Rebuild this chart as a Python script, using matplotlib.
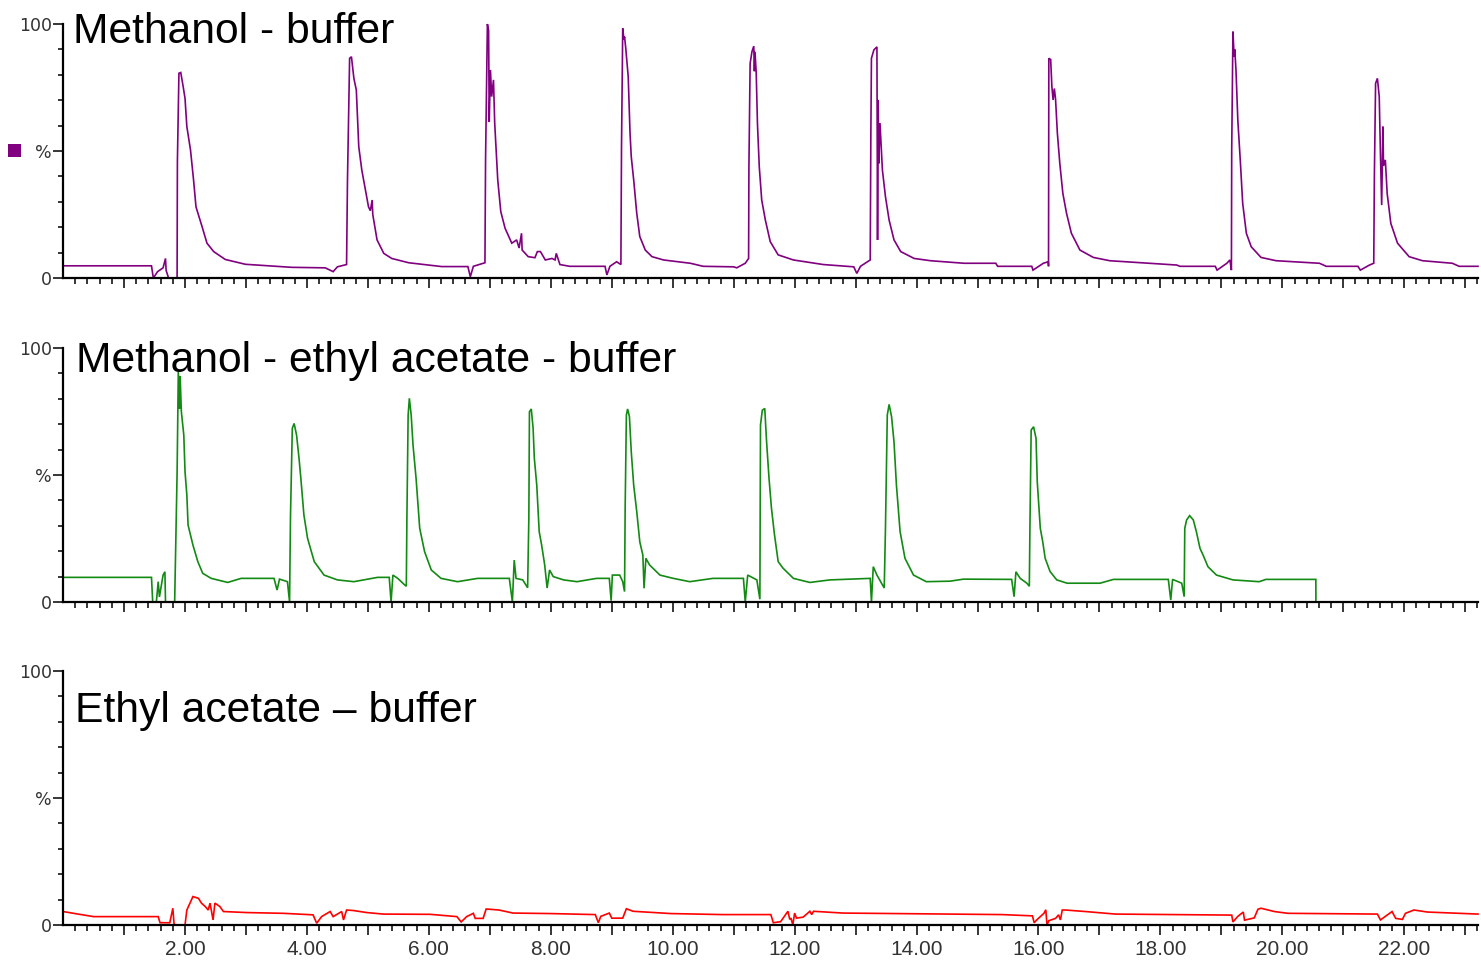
import numpy as np
import matplotlib
matplotlib.use("Agg")
import matplotlib.pyplot as plt
from matplotlib import font_manager as fm
from matplotlib.ticker import FixedLocator, FuncFormatter
from matplotlib.patches import Rectangle

# ---------------- data (time in min, intensity in %) ----------------
t_meoh_buffer = [0.0, 0.8, 1.45, 1.48, 1.55, 1.64, 1.68, 1.69, 1.73, 1.87, 1.875, 1.90, 1.93, 1.97, 2.00,
                 2.03, 2.09, 2.14, 2.18, 2.28, 2.36, 2.47, 2.66, 2.99, 3.75, 4.30, 4.43, 4.50, 4.65,
                 4.665, 4.70, 4.73, 4.77, 4.81, 4.85, 4.90, 4.96, 5.01, 5.04, 5.07, 5.08, 5.15, 5.26,
                 5.39, 5.67, 6.21, 6.64, 6.68, 6.73, 6.92, 6.93, 6.96, 6.98, 6.99, 7.01, 7.03, 7.06,
                 7.08, 7.13, 7.18, 7.25, 7.36, 7.44, 7.48, 7.52, 7.53, 7.63, 7.74, 7.78, 7.83, 7.91,
                 8.02, 8.07, 8.09, 8.15, 8.31, 8.89, 8.92, 8.97, 9.08, 9.15, 9.16, 9.18, 9.20, 9.21,
                 9.23, 9.27, 9.30, 9.32, 9.36, 9.41, 9.46, 9.55, 9.66, 9.85, 10.29, 10.50, 11.00,
                 11.05, 11.19, 11.245, 11.25, 11.27, 11.30, 11.33, 11.34, 11.35, 11.37, 11.39, 11.42,
                 11.46, 11.52, 11.60, 11.73, 11.98, 12.47, 12.97, 13.02, 13.08, 13.24, 13.25, 13.26,
                 13.30, 13.35, 13.36, 13.37, 13.38, 13.40, 13.44, 13.49, 13.55, 13.63, 13.74, 13.96,
                 14.23, 14.78, 15.30, 15.33, 15.89, 15.91, 16.08, 16.16, 16.165, 16.17, 16.20, 16.22,
                 16.24, 16.26, 16.28, 16.31, 16.35, 16.40, 16.46, 16.54, 16.68, 16.90, 17.17, 18.27,
                 18.32, 18.90, 18.93, 19.09, 19.14, 19.165, 19.17, 19.19, 19.21, 19.22, 19.24, 19.27,
                 19.31, 19.35, 19.41, 19.49, 19.65, 19.90, 20.61, 20.72, 21.24, 21.28, 21.43, 21.50,
                 21.51, 21.53, 21.56, 21.59, 21.61, 21.63, 21.65, 21.66, 21.69, 21.72, 21.78, 21.89,
                 22.08, 22.30, 22.79, 22.90, 23.21]
v_meoh_buffer = [4.8, 4.8, 4.8, 0.0, 2.5, 4.0, 7.7, 3.0, 0.0, 0.0, 45.8, 80.6, 80.9, 75.3, 70.7,
                 59.6, 50.4, 38.6, 28.0, 20.2, 13.7, 10.4, 7.3, 5.4, 4.2, 4.0, 2.5, 4.4, 5.3,
                 38.6, 86.5, 87.1, 78.6, 74.0, 51.7, 42.5, 34.6, 28.0, 26.5, 30.7, 25.0, 15.0, 9.7,
                 7.7, 6.0, 4.5, 4.5, 0.5, 4.6, 6.0, 46.5, 100.0, 97.5, 61.5, 81.9, 71.4, 78.0,
                 61.0, 38.6, 26.1, 19.6, 13.7, 15.0, 11.8, 17.6, 11.0, 8.4, 8.0, 10.4, 10.4, 7.1,
                 7.7, 7.1, 9.7, 5.3, 4.6, 4.6, 1.2, 4.6, 6.4, 5.3, 51.0, 98.3, 93.8, 95.0,
                 90.4, 79.3, 57.0, 47.8, 38.6, 25.5, 16.3, 11.0, 8.4, 7.1, 5.8, 4.6, 4.4,
                 4.0, 5.8, 7.7, 43.2, 84.5, 89.1, 91.3, 81.4, 89.1, 80.6, 60.9, 43.8,
                 30.7, 22.8, 14.3, 9.1, 7.1, 5.3, 4.4, 1.8, 4.6, 7.1, 55.0, 86.5,
                 89.8, 91.0, 15.0, 70.1, 45.1, 61.0, 42.5, 32.0, 22.8, 15.0, 10.4, 7.7,
                 6.8, 5.8, 5.8, 4.6, 4.6, 3.1, 5.8, 6.4, 4.6, 86.5, 86.0, 75.3,
                 70.1, 74.6, 70.5, 57.0, 45.1, 33.3, 25.5, 17.6, 11.0, 8.1, 6.8, 5.1,
                 4.6, 4.6, 3.1, 5.8, 7.1, 3.1, 50.4, 97.0, 87.1, 90.0, 81.9, 62.2,
                 46.5, 29.4, 17.6, 12.3, 8.1, 6.8, 5.8, 4.6, 4.6, 3.1, 5.1, 5.8,
                 39.9, 76.6, 78.6, 71.4, 48.5, 28.7, 59.6, 44.1, 46.5, 33.3, 21.5, 13.7,
                 8.4, 6.8, 5.8, 4.6, 4.6]

t_meoh_etac_buffer = [0.0, 1.45, 1.47, 1.53, 1.56, 1.58, 1.64, 1.67, 1.68, 1.83, 1.87, 1.89, 1.91, 1.92,
                      1.94, 1.98, 2.00, 2.03, 2.05, 2.13, 2.21, 2.29, 2.43, 2.70, 2.92, 3.46, 3.51, 3.55,
                      3.68, 3.715, 3.73, 3.76, 3.79, 3.83, 3.87, 3.90, 3.95, 4.01, 4.12, 4.28, 4.50, 4.77,
                      5.16, 5.35, 5.38, 5.41, 5.49, 5.60, 5.63, 5.64, 5.66, 5.68, 5.71, 5.74, 5.79, 5.85,
                      5.93, 6.04, 6.20, 6.47, 6.80, 7.32, 7.37, 7.40, 7.43, 7.54, 7.62, 7.64, 7.65, 7.68,
                      7.71, 7.73, 7.77, 7.81, 7.85, 7.90, 7.94, 7.98, 8.04, 8.21, 8.43, 8.75, 8.96, 8.99,
                      9.01, 9.13, 9.18, 9.21, 9.22, 9.24, 9.26, 9.29, 9.32, 9.36, 9.41, 9.46, 9.51, 9.53,
                      9.56, 9.62, 9.79, 10.01, 10.28, 10.66, 11.16, 11.19, 11.23, 11.38, 11.43, 11.44,
                      11.47, 11.51, 11.54, 11.58, 11.62, 11.67, 11.73, 11.81, 11.98, 12.25, 12.58, 13.24,
                      13.26, 13.29, 13.35, 13.47, 13.49, 13.52, 13.55, 13.59, 13.63, 13.67, 13.73, 13.81,
                      13.95, 14.16, 14.55, 14.77, 15.56, 15.60, 15.63, 15.70, 15.81, 15.85, 15.86, 15.88,
                      15.92, 15.96, 15.98, 16.03, 16.07, 16.11, 16.19, 16.30, 16.47, 17.01, 17.23, 18.13,
                      18.17, 18.20, 18.35, 18.39, 18.40, 18.43, 18.48, 18.54, 18.59, 18.65, 18.70, 18.78,
                      18.92, 19.19, 19.62, 19.73, 20.55, 20.551]
v_meoh_etac_buffer = [9.7, 9.7, 0.0, 0.0, 8.0, 2.0, 10.6, 11.9, 0.0, 0.0, 50.7, 90.7, 76.0, 89.0,
                      74.9, 65.7, 51.3, 42.1, 30.3, 22.4, 15.9, 11.3, 9.3, 7.7, 9.3, 9.3, 4.7, 9.0,
                      8.0, 0.0, 33.6, 68.4, 70.3, 65.7, 56.6, 48.7, 34.3, 25.1, 15.9, 10.6, 8.7, 8.0,
                      9.7, 9.7, 0.0, 10.6, 9.3, 6.8, 6.2, 33.6, 73.6, 80.2, 73.6, 61.8, 48.7, 29.0,
                      19.8, 12.6, 9.3, 8.0, 9.3, 9.3, 0.0, 16.5, 9.3, 8.7, 5.6, 33.0, 74.9, 76.0,
                      68.4, 56.6, 46.0, 27.7, 22.4, 14.6, 5.5, 12.6, 10.0, 8.7, 8.0, 9.3, 9.3, 0.5,
                      10.6, 10.6, 8.0, 4.1, 36.9, 73.6, 76.0, 73.0, 59.2, 46.0, 35.6, 23.7, 18.5, 5.4,
                      17.2, 14.6, 10.6, 9.3, 8.0, 9.3, 9.3, 0.0, 10.6, 8.7, 1.1, 69.7,
                      75.5, 76.2, 63.1, 48.7, 36.9, 26.4, 15.9, 13.3, 9.3, 7.7, 8.7, 9.3,
                      0.0, 13.9, 10.6, 5.5, 29.0, 73.6, 77.8, 73.0, 63.1, 46.0, 27.7, 17.2,
                      10.6, 8.0, 8.2, 9.0, 8.9, 2.1, 11.9, 9.3, 7.4, 6.2, 29.6, 67.7,
                      69.0, 64.4, 47.4, 29.0, 23.7, 17.2, 12.0, 8.7, 7.4, 7.4, 8.9, 8.9,
                      0.8, 8.9, 7.4, 2.1, 29.0, 32.3, 34.0, 32.3, 27.7, 21.1, 18.5, 13.9,
                      10.6, 8.7, 8.0, 8.9, 8.9, 0.0]

t_etac_buffer = [0.0, 0.22, 0.50, 1.56, 1.59, 1.75, 1.80, 1.82, 1.84, 2.00, 2.03, 2.13, 2.22, 2.27,
                 2.33, 2.38, 2.41, 2.46, 2.49, 2.57, 2.63, 3.01, 3.61, 4.10, 4.16, 4.24, 4.38, 4.43,
                 4.57, 4.60, 4.65, 4.76, 4.98, 5.25, 6.02, 6.46, 6.53, 6.62, 6.73, 6.76, 6.89, 6.94,
                 7.15, 7.38, 8.00, 8.73, 8.78, 8.82, 8.96, 9.00, 9.18, 9.24, 9.35, 9.97, 10.82, 11.61,
                 11.65, 11.77, 11.89, 11.92, 11.94, 11.97, 12.00, 12.03, 12.14, 12.25, 12.28, 12.31,
                 12.79, 15.40, 15.90, 15.93, 15.98, 16.09, 16.12, 16.14, 16.17, 16.28, 16.33, 16.36,
                 16.39, 16.44, 16.77, 17.26, 19.17, 19.19, 19.27, 19.36, 19.38, 19.54, 19.60, 19.65,
                 19.87, 20.09, 21.56, 21.61, 21.80, 21.86, 21.97, 22.02, 22.16, 22.38, 23.21]
v_etac_buffer = [5.3, 4.4, 3.3, 3.3, 0.9, 0.9, 6.6, 0.5, 0.0, 0.0, 5.9, 11.2, 10.5, 8.6,
                 7.3, 5.9, 8.6, 2.0, 8.6, 7.3, 5.3, 4.9, 4.6, 4.0, 0.7, 3.3, 5.3, 3.3,
                 5.3, 2.0, 5.9, 5.7, 4.9, 4.3, 4.2, 3.3, 1.2, 3.3, 4.6, 2.6, 2.6, 6.3,
                 5.9, 4.7, 4.5, 4.1, 0.9, 3.4, 4.7, 2.7, 2.7, 6.4, 5.4, 4.5, 4.1, 4.1,
                 0.9, 1.3, 5.4, 2.2, 2.7, 0.0, 4.7, 2.7, 3.1, 5.4, 4.1, 5.4,
                 4.7, 4.1, 3.6, 0.9, 2.2, 4.6, 6.0, 0.0, 1.7, 2.6, 4.0, 2.0,
                 5.9, 5.9, 5.3, 4.3, 3.9, 1.2, 3.4, 5.1, 1.9, 2.8, 6.2, 6.6,
                 5.3, 4.6, 4.3, 2.0, 5.3, 2.6, 2.2, 4.6, 5.9, 5.1, 4.3]

panel_titles = ["Methanol - buffer", "Methanol - ethyl acetate - buffer", "Ethyl acetate \u2013 buffer"]
trace_colors = ["#800080", "#138a13", "#ff0000"]
y_tick_values = [0, 50, 100]
y_tick_texts = ["0", "%", "100"]
x_label_values = [2, 4, 6, 8, 10, 12, 14, 16, 18, 20, 22]

traces = [(t_meoh_buffer, v_meoh_buffer),
          (t_meoh_etac_buffer, v_meoh_etac_buffer),
          (t_etac_buffer, v_etac_buffer)]

# ---------------- fonts ----------------
available = {f.name for f in fm.fontManager.ttflist}
if "Liberation Sans Narrow" in available:
    xtick_font, xtick_size = "Liberation Sans Narrow", 17.5
else:
    xtick_font, xtick_size = "Liberation Sans", 15
title_font = "Liberation Sans" if "Liberation Sans" in available else "DejaVu Sans"

# ---------------- figure ----------------
W, H = 1481, 964
fig = plt.figure(figsize=(W / 100, H / 100), dpi=100)
fig.patch.set_facecolor("white")

x_left_px, x_right_px = 63.1, 1478
axis_bottoms_px = [278, 602, 925]
axis_height_px = 254
title_baselines = [0.924, 0.906, 0.800]
title_x = [0.0072, 0.0090, 0.0086]

x_max = 23.21

for i, ((tt, vv), col, title) in enumerate(zip(traces, trace_colors, panel_titles)):
    ax = fig.add_axes([x_left_px / W, 1 - axis_bottoms_px[i] / H,
                       (x_right_px - x_left_px) / W, axis_height_px / H])
    ax.set_facecolor("none")
    ax.plot(tt, vv, color=col, lw=1.2, clip_on=False, solid_joinstyle="miter", zorder=3)
    ax.set_xlim(0, x_max)
    ax.set_ylim(0, 100)
    for s in ("top", "right"):
        ax.spines[s].set_visible(False)
    for s in ("left", "bottom"):
        ax.spines[s].set_linewidth(1.6)
        ax.spines[s].set_color("black")
        ax.spines[s].set_zorder(4)

    # x ticks
    ax.xaxis.set_major_locator(FixedLocator(np.arange(1, 24, 1)))
    ax.xaxis.set_minor_locator(FixedLocator(np.arange(0.2, 23.21, 0.2)))
    if i == 2:
        ax.xaxis.set_major_formatter(FuncFormatter(
            lambda v, p: ("%.2f" % v) if int(round(v)) in x_label_values else ""))
    else:
        ax.xaxis.set_major_formatter(FuncFormatter(lambda v, p: ""))
    ax.tick_params(axis="x", which="major", length=7.5, width=1.1, direction="out",
                   pad=3, labelsize=xtick_size, labelcolor="#333333")
    ax.tick_params(axis="x", which="minor", length=4, width=1.1, direction="out")
    for lab in ax.get_xticklabels():
        lab.set_fontfamily(xtick_font)

    # y ticks
    ax.yaxis.set_major_locator(FixedLocator(y_tick_values))
    ax.yaxis.set_minor_locator(FixedLocator(np.arange(10, 100, 10)))
    ax.set_yticklabels(y_tick_texts)
    ax.tick_params(axis="y", which="major", length=7, width=1.1, direction="out",
                   pad=1, labelsize=12.5, labelcolor="#333333")
    ax.tick_params(axis="y", which="minor", length=3.5, width=1.1, direction="out")
    for lab in ax.get_yticklabels():
        lab.set_fontfamily("DejaVu Sans")

    ax.text(title_x[i], title_baselines[i], title, transform=ax.transAxes,
            fontsize=30.7, family=title_font, color="black", va="baseline", ha="left",
            zorder=5)

# small purple legend square next to the "%" of the first panel
fig.add_artist(Rectangle((8 / W, 1 - 157 / H), 13 / W, 13 / H,
                         transform=fig.transFigure, facecolor="#800080",
                         edgecolor="none"))

fig.savefig("out.png", dpi=100, facecolor="white")
